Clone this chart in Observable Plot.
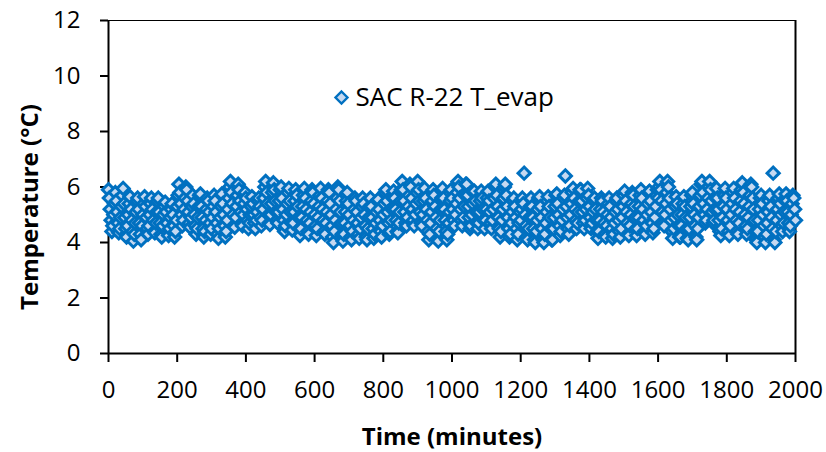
<!DOCTYPE html>
<html><head><meta charset="utf-8">
<script src="https://cdn.jsdelivr.net/npm/d3@7"></script>
<script src="https://cdn.jsdelivr.net/npm/@observablehq/plot@0.6"></script>
<style>body{margin:0;background:#fff;}</style>
</head><body><div id="chart"></div>
<script>
const seriesName = "SAC R-22 T_evap";
const xTitle = "Time (minutes)";
const yTitle = "Temperature (°C)";
const startMinute = 0;
const stepMinutes = 2.5;
// evaporator temperature (°C), one reading every 2.5 minutes, 0..2000 min (40 readings per row = 100 min)
const tEvap = [
 5.9,5.6,5.2,4.8,4.4,4.6,5.0,5.4,5.8,5.5,5.1,4.7,4.35,4.5,4.9,5.3,5.7,5.95,5.4,4.9, 4.5,4.2,4.6,5.0,5.4,5.65,5.2,4.8,4.4,4.05,4.3,4.7,5.1,5.5,5.6,5.2,4.7,4.3,4.1,4.6,
 5.0,5.4,5.65,5.3,4.9,4.5,4.3,4.6,5.0,5.4,5.6,5.2,4.8,4.4,4.35,4.7,5.1,5.5,5.6,5.1, 4.7,4.3,4.2,4.6,5.0,5.3,5.45,5.1,4.7,4.35,4.25,4.5,4.9,5.2,5.4,5.0,4.6,4.2,4.4,4.8,
 5.3,5.7,6.1,5.8,5.4,5.0,4.6,4.8,5.2,5.6,6.0,5.9,5.5,5.1,4.7,4.55,4.9,5.3,5.7,5.4, 5.0,4.6,4.3,4.5,4.9,5.3,5.7,5.75,5.3,4.9,4.5,4.2,4.4,4.8,5.2,5.6,5.5,5.1,4.7,4.3,
 4.5,4.9,5.3,5.7,5.5,5.1,4.7,4.3,4.15,4.5,4.9,5.3,5.75,5.4,5.0,4.6,4.2,4.4,4.8,5.2, 5.6,6.0,6.2,5.8,5.4,5.0,4.6,4.55,4.9,5.3,5.7,6.1,5.9,5.5,5.1,4.7,4.6,5.0,5.4,5.8,
 5.6,5.2,4.8,4.5,4.7,5.0,5.3,5.65,5.4,5.0,4.7,4.5,4.8,5.1,5.5,5.6,5.3,4.9,4.6,4.8, 5.2,5.6,6.0,6.2,5.8,5.4,5.0,4.7,4.65,5.0,5.4,5.8,6.15,5.9,5.5,5.1,4.8,4.7,5.1,5.5,
 5.9,6.0,5.6,5.2,4.8,4.4,4.6,5.0,5.4,5.8,5.95,5.5,5.1,4.7,4.45,4.7,5.1,5.5,5.9,5.7, 5.3,4.9,4.5,4.25,4.5,4.9,5.3,5.7,5.95,5.6,5.2,4.8,4.4,4.3,4.7,5.1,5.5,5.9,5.8,5.4,
 5.0,4.6,4.25,4.5,4.9,5.3,5.7,5.95,5.6,5.2,4.8,4.4,4.3,4.7,5.1,5.5,5.9,5.8,5.4,5.0, 4.6,4.2,4.0,4.4,4.8,5.2,5.6,6.0,5.9,5.5,5.1,4.7,4.3,4.05,4.3,4.7,5.1,5.5,5.8,5.4,
 5.0,4.6,4.2,4.1,4.4,4.8,5.2,5.6,5.5,5.1,4.7,4.3,4.15,4.5,4.9,5.3,5.6,5.4,5.0,4.6, 4.2,4.1,4.5,4.9,5.3,5.6,5.3,4.9,4.5,4.15,4.3,4.7,5.1,5.5,5.55,5.2,4.8,4.4,4.2,4.6,
 5.0,5.4,5.8,5.9,5.5,5.1,4.7,4.3,4.4,4.8,5.2,5.6,5.85,5.6,5.2,4.8,4.4,4.35,4.7,5.1, 5.5,5.9,6.2,5.9,5.5,5.1,4.7,4.6,4.9,5.3,5.7,6.1,6.0,5.6,5.2,4.8,4.6,5.0,5.4,5.8,
 6.2,5.9,5.5,5.1,4.7,4.6,5.0,5.5,5.95,5.6,5.2,4.8,4.4,4.1,4.3,4.7,5.1,5.5,5.9,5.7, 5.3,4.9,4.5,4.1,4.05,4.4,4.8,5.2,5.6,5.95,5.6,5.2,4.8,4.4,4.1,4.3,4.7,5.1,5.5,5.9,
 5.6,5.2,4.8,4.6,5.0,5.4,5.8,6.2,6.0,5.6,5.2,4.8,4.6,4.9,5.3,5.7,6.1,6.1,5.7,5.3, 4.9,4.5,4.6,5.0,5.4,5.8,5.85,5.5,5.1,4.7,4.5,4.7,5.1,5.5,5.85,5.6,5.2,4.8,4.5,4.8,
 5.2,5.6,5.85,5.5,5.1,4.7,4.5,4.8,5.2,5.6,6.0,6.1,5.7,5.3,4.9,4.5,4.2,4.4,4.8,5.2, 5.6,6.0,6.1,5.7,5.3,4.9,4.5,4.2,4.3,4.7,5.1,5.5,5.6,5.3,4.9,4.5,4.1,4.3,4.7,5.1,
 4.8,5.2,5.6,5.4,6.5,5.0,4.6,4.2,4.1,4.5,4.9,5.3,5.6,5.3,4.9,4.5,4.1,4.0,4.4,4.8, 5.2,5.6,5.65,5.3,4.9,4.5,4.1,4.0,4.3,4.7,5.1,5.5,5.65,5.3,4.9,4.5,4.1,4.1,4.5,4.9,
 5.3,5.7,5.75,5.4,5.0,4.6,4.25,4.4,4.8,5.2,5.6,5.7,6.4,5.3,4.9,4.5,4.3,4.6,5.0,5.4, 5.8,5.95,5.6,5.2,4.8,4.5,4.7,5.1,5.5,5.9,5.9,5.5,5.1,4.7,4.5,4.8,5.2,5.6,5.95,5.7,
 5.3,4.9,4.5,4.7,5.1,5.5,5.6,5.2,4.8,4.4,4.15,4.4,4.8,5.2,5.6,5.5,5.1,4.7,4.3,4.2, 4.6,5.0,5.4,5.6,5.3,4.9,4.5,4.15,4.3,4.7,5.1,5.5,5.6,5.2,4.8,4.4,4.2,4.5,4.9,5.3,
 5.7,5.85,5.5,5.1,4.7,4.3,4.25,4.6,5.0,5.4,5.8,5.7,5.3,4.9,4.5,4.25,4.5,4.9,5.3,5.7, 5.9,5.6,5.2,4.8,4.4,4.3,4.6,5.0,5.4,5.8,5.85,5.5,5.1,4.7,4.35,4.5,4.9,5.3,5.7,5.9,
 5.6,6.0,6.2,5.9,5.5,5.1,4.7,4.6,5.0,5.4,5.8,6.2,6.0,5.6,5.2,4.8,4.4,4.15,4.5,4.9, 5.3,5.65,5.4,5.0,4.6,4.2,4.2,4.6,5.0,5.4,5.65,5.3,4.9,4.5,4.15,4.1,4.5,4.9,5.3,5.7,
 5.8,5.4,5.0,4.6,4.2,4.1,4.5,4.9,5.3,5.7,6.1,6.2,5.8,5.4,5.0,4.7,4.8,5.2,5.6,6.0, 6.2,5.9,5.5,5.1,4.7,4.8,5.2,5.6,5.95,5.6,5.2,4.8,4.4,4.25,4.5,4.9,5.3,5.7,5.95,5.6,
 5.2,4.8,4.4,4.25,4.6,5.0,5.4,5.8,5.95,5.6,5.2,4.8,4.4,4.3,4.7,5.1,5.5,5.9,6.15,5.8, 5.4,5.0,4.6,4.3,4.5,4.9,5.3,5.7,6.1,6.0,5.6,5.2,4.8,4.4,4.1,4.0,4.4,4.8,5.2,5.6,
 5.7,5.4,5.0,4.6,4.2,4.0,4.3,4.7,5.1,5.5,5.7,5.3,4.9,4.5,6.5,4.1,4.0,4.4,4.8,5.2, 5.6,5.75,5.4,5.0,4.6,4.4,4.7,5.1,5.5,5.75,5.5,5.1,4.7,4.4,4.6,5.0,5.4,5.7,5.6,5.2,
 4.8
];
const xTicks = [0,200,400,600,800,1000,1200,1400,1600,1800,2000];
const yTicks = [0,2,4,6,8,10,12];

const data = tEvap.map((v, i) => ({time: startMinute + i * stepMinutes, temp: v}));
const font = "'Open Sans', sans-serif";
const blue = "#0070C0";
const lightBlue = "#C6D9F1";

const chart = Plot.plot({
  width: 826, height: 452,
  marginLeft: 108, marginRight: 31, marginTop: 20, marginBottom: 99,
  style: {fontFamily: font, fontSize: "24px", color: "#000", background: "#fff"},
  x: {domain: [0, 2000]},
  y: {domain: [0, 12]},
  marks: [
    Plot.ruleY([12], {stroke: "#000", strokeWidth: 1}),
    Plot.ruleX([2000], {stroke: "#000", strokeWidth: 2}),
    Plot.axisX({ticks: xTicks, tickFormat: d => String(d), tickSize: 9, tickPadding: 18, fontSize: 24, label: null, strokeWidth: 2}),
    Plot.axisY({ticks: yTicks, tickFormat: d => String(d), tickSize: 8, tickPadding: 20, fontSize: 24, label: null, strokeWidth: 2}),
    Plot.ruleX([0], {stroke: "#000", strokeWidth: 2}),
    Plot.ruleY([0], {stroke: "#000", strokeWidth: 2}),
    Plot.dot(data, {x: "time", y: "temp", symbol: "diamond2", r: 5.5, fill: lightBlue, stroke: blue, strokeWidth: 3}),
    Plot.dot([seriesName], {frameAnchor: "top-left", dx: 233, dy: 77, symbol: "diamond2", r: 5.4, fill: lightBlue, stroke: blue, strokeWidth: 2.4}),
    Plot.text([seriesName], {frameAnchor: "top-left", dx: 247, dy: 77, text: d => d, textAnchor: "start", lineAnchor: "middle", fontSize: 26, fill: "#000"}),
    Plot.text([xTitle], {frameAnchor: "bottom", dy: 84, text: d => d, textAnchor: "middle", lineAnchor: "middle", fontSize: 24, fontWeight: "bold", fill: "#000"}),
    Plot.text([yTitle], {frameAnchor: "left", dx: -78, dy: 20, rotate: -90, text: d => d, textAnchor: "middle", lineAnchor: "middle", fontSize: 24, fontWeight: "bold", fill: "#000"})
  ]
});
document.getElementById("chart").appendChild(chart);
</script>
</body></html>
